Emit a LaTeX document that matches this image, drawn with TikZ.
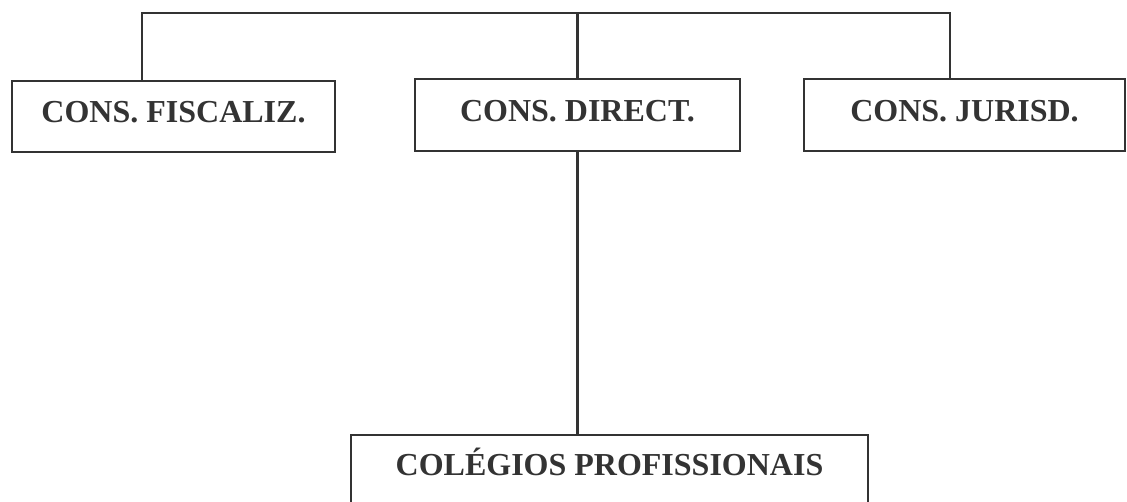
\documentclass[tikz,border=0pt]{standalone}
\usepackage{fontspec}
\setmainfont{Liberation Serif}
\usepackage{tikz}
\usetikzlibrary{positioning}
\definecolor{ink}{HTML}{333333}

\begin{document}
\begin{tikzpicture} [x=1pt, y=-1pt, line width=2.5pt, draw=ink,
  orgbox/.style ={draw=ink, rectangle, inner sep=0pt, text=ink, text height=22pt, text depth=9pt,
    font=\fontsize{32}{32}\selectfont\bfseries}]
\useasboundingbox (0,0) rectangle (1127,502);
\node[orgbox, minimum width=323pt, minimum height=71pt] (FISC) at (173.5,116.5) {CONS. FISCALIZ.};
\node[orgbox, minimum width=325pt, minimum height=72pt] (DIR) at (577.5,115) {CONS. DIRECT.};
\node[orgbox, minimum width=321pt, minimum height=72pt] (JUR) at (964.5,115) {CONS. JURISD.};
\node[orgbox, minimum width=517pt, minimum height=72pt, text depth=14pt] (COL) at (609.5,471) {COLÉGIOS PROFISSIONAIS};
\coordinate (TL) at (142,13);
\coordinate (TR) at (950,13);
\draw[ink] (FISC.north -| TL) -- (TL) -- (TR) -- (JUR.north -| TR);
\draw[ink] (DIR.north) -- (DIR.north |- TL);
\draw[ink] (DIR.south) -- (DIR.south |- COL.north);
\end{tikzpicture}
\end{document}
